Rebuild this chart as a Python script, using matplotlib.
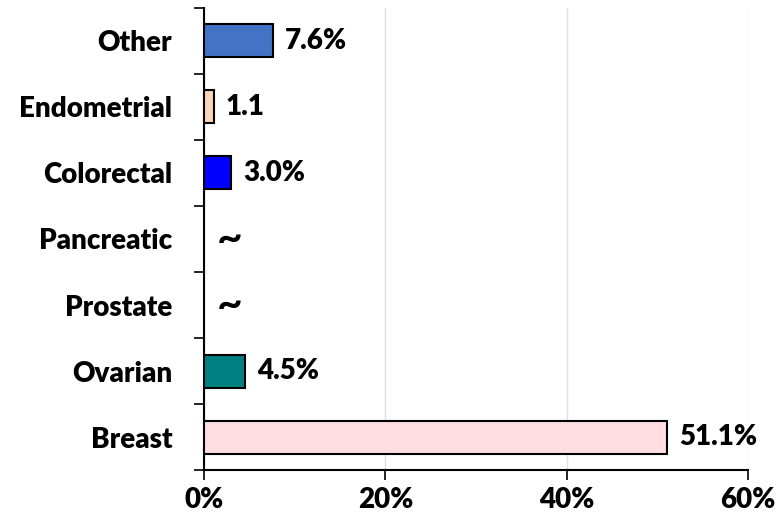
import numpy as np
import matplotlib
matplotlib.use('Agg')
from matplotlib import pyplot as plt
from matplotlib.ticker import FixedLocator

categories = ['Breast', 'Ovarian', 'Prostate', 'Pancreatic', 'Colorectal', 'Endometrial', 'Other']
values = [51.1, 4.5, 0, 0, 3.0, 1.1, 7.6]
labels = ['51.1%', '4.5%', '~', '~', '3.0%', '1.1', '7.6%']
colors = ['#FFDDE2', '#008080', 'none', 'none', '#0000FF', '#FBD5B5', '#4472C4']
xticks = [0, 20, 40, 60]

plt.rcParams['font.family'] = ['Lato', 'DejaVu Sans']

fig = plt.figure(figsize=(7.76, 5.27), dpi=100)
ax = fig.add_axes([0.263, 0.108, 0.701, 0.877])

y = np.arange(len(categories))
for i, (v, c) in enumerate(zip(values, colors)):
    if v > 0:
        ax.barh(y[i], v, height=0.5, color=c, edgecolor='black', linewidth=1.5, zorder=3)

for i, (v, lab) in enumerate(zip(values, labels)):
    if lab == '~':
        # tilde drawn larger, like in the original
        ax.text(v + 1.4, y[i], lab, va='center', ha='left', fontsize=32, fontweight='bold', zorder=4)
    else:
        ax.text(v + 1.3, y[i], lab, va='center', ha='left', fontsize=20, fontweight='heavy', zorder=4)

ax.set_xlim(0, 60)
ax.set_ylim(-0.5, len(categories) - 0.5)
ax.set_xticks(xticks)
ax.set_xticklabels([f'{t}%' for t in xticks], fontsize=20, fontweight='heavy')
ax.set_yticks(y)
ax.set_yticklabels(categories, fontsize=20, fontweight='heavy')
ax.yaxis.set_minor_locator(FixedLocator(np.arange(-0.5, len(categories), 1.0)))
ax.tick_params(axis='y', which='major', length=0, pad=23)
ax.tick_params(axis='y', which='minor', length=7, width=1.2)
ax.tick_params(axis='x', which='major', length=7, width=1.2, direction='out', pad=5)

ax.grid(axis='x', color='#DEDEE8', linewidth=1, zorder=0)
ax.spines['top'].set_visible(False)
ax.spines['right'].set_visible(False)
ax.spines['left'].set_linewidth(1.5)
ax.spines['bottom'].set_linewidth(1.5)

fig.savefig('out.png', dpi=100)
